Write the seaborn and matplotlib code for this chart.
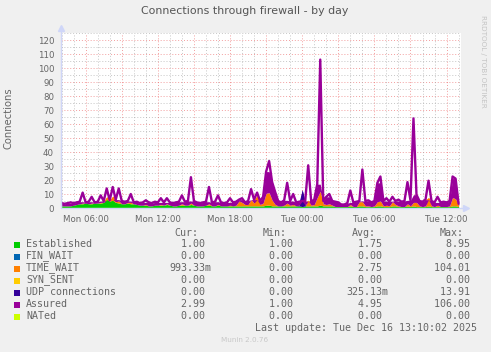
import numpy as np
import pandas as pd
import matplotlib
matplotlib.use("Agg")
import matplotlib.pyplot as plt
from matplotlib.patches import Rectangle
import seaborn as sns

# ---------------- data (15-minute samples, hours since Mon 00:00) ----------------
start_hour = 4.0
step_hours = 0.25

established = [
    1.5, 1.5, 1.5, 1.5, 2.0, 2.5, 3.0, 3.0, 3.5, 3.0,
    3.0, 3.5, 3.5, 3.5, 4.0, 6.0, 5.0, 5.5, 4.0, 3.5,
    3.0, 3.0, 3.5, 3.0, 3.0, 2.5, 2.0, 2.0, 2.0, 1.5,
    1.5, 2.0, 2.0, 2.0, 2.0, 2.5, 2.0, 1.5, 1.5, 2.0,
    2.0, 2.0, 2.0, 2.5, 2.0, 1.5, 1.5, 1.5, 2.0, 2.0,
    1.5, 1.5, 2.0, 1.5, 1.5, 1.5, 1.5, 1.5, 1.5, 1.5,
    1.5, 1.5, 1.5, 1.5, 1.5, 1.5, 1.5, 1.5, 2.0, 2.0,
    1.5, 1.5, 1.5, 1.5, 1.5, 1.5, 1.5, 1.5, 1.5, 1.5,
    1.0, 1.5, 1.5, 1.5, 1.5, 1.5, 2.0, 1.5, 1.5, 1.5,
    1.5, 1.0, 1.0, 1.0, 1.0, 1.0, 1.5, 1.0, 1.0, 1.5,
    1.5, 1.0, 1.0, 1.0, 1.0, 1.5, 1.5, 1.0, 1.0, 1.0,
    1.5, 1.5, 1.0, 1.0, 1.0, 1.5, 1.0, 1.5, 1.0, 1.0,
    1.0, 1.0, 1.5, 1.0, 1.0, 1.0, 1.0, 1.0, 1.0, 1.0,
    1.5, 1.5, 1.0,
]
fin_wait = [0.0] * len(established)
time_wait = [
    0.0, 0.0, 0.0, 0.0, 0.0, 0.0, 0.0, 0.5, 0.0, 0.0,
    0.5, 0.0, 0.0, 0.5, 0.0, 2.0, 0.5, 3.0, 0.5, 1.5,
    0.0, 0.0, 0.5, 1.0, 0.0, 0.0, 0.0, 0.0, 0.5, 0.0,
    0.0, 0.0, 0.0, 0.5, 0.0, 0.5, 0.0, 0.0, 0.0, 0.0,
    1.0, 0.0, 0.0, 1.0, 0.0, 0.0, 0.0, 0.0, 0.0, 1.0,
    0.0, 0.0, 0.5, 0.0, 0.0, 0.0, 0.5, 0.0, 0.5, 3.5,
    2.5, 1.0, 1.0, 4.5, 2.0, 7.5, 1.0, 2.0, 8.5, 9.0,
    4.0, 1.0, 0.0, 0.0, 0.5, 2.0, 0.5, 1.0, 0.0, 0.0,
    0.0, 0.0, 4.0, 0.5, 1.0, 6.0, 10.0, 1.5, 1.0, 1.5,
    0.5, 0.0, 0.0, 0.0, 0.0, 0.0, 1.0, 0.0, 0.0, 3.0,
    3.0, 0.5, 0.5, 0.0, 0.5, 3.0, 3.5, 0.5, 1.0, 0.5,
    3.0, 1.0, 0.5, 0.0, 0.0, 1.5, 0.5, 2.5, 3.0, 0.5,
    0.0, 0.5, 6.0, 0.5, 0.0, 1.0, 0.0, 0.0, 0.0, 0.5,
    6.0, 5.0, 1.0,
]
syn_sent = [0.0] * len(established)
udp_connections = [
    0.0, 0.0, 0.0, 0.0, 0.0, 0.0, 0.0, 0.0, 0.0, 0.0,
    0.0, 0.0, 0.0, 0.0, 0.0, 0.0, 0.0, 0.0, 0.0, 0.0,
    0.0, 0.0, 0.0, 0.0, 0.0, 0.0, 0.0, 0.0, 0.0, 0.0,
    0.0, 0.0, 0.0, 0.0, 0.0, 0.0, 0.0, 0.0, 0.0, 0.0,
    0.0, 0.0, 0.0, 0.0, 0.0, 0.0, 0.0, 0.0, 0.0, 0.0,
    0.0, 0.0, 0.0, 0.0, 0.0, 0.0, 0.0, 0.0, 0.0, 0.0,
    0.0, 0.0, 0.0, 0.0, 0.0, 0.0, 0.0, 0.0, 0.0, 0.0,
    0.0, 0.0, 0.0, 0.0, 0.0, 0.0, 0.0, 0.0, 0.0, 0.5,
    12.0, 0.5, 0.0, 0.0, 0.0, 0.0, 0.0, 0.0, 0.0, 0.0,
    0.0, 0.0, 0.0, 0.0, 0.0, 0.0, 0.0, 0.0, 0.0, 0.0,
    0.0, 0.0, 0.0, 0.0, 0.0, 0.0, 0.0, 0.0, 0.0, 0.0,
    0.0, 0.0, 0.0, 0.0, 0.0, 0.0, 0.0, 0.0, 0.0, 0.0,
    0.0, 0.0, 0.0, 0.0, 0.0, 0.0, 0.0, 0.0, 0.0, 0.0,
    0.0, 0.0, 0.0,
]
assured = [
    3.5, 3.0, 3.5, 4.0, 3.5, 4.0, 4.5, 11.0, 4.0, 4.5,
    8.0, 4.0, 4.5, 9.0, 5.0, 14.0, 5.5, 15.0, 6.0, 14.0,
    5.0, 4.5, 5.0, 10.0, 4.0, 4.5, 3.5, 4.0, 5.5, 4.0,
    3.5, 4.5, 4.0, 7.0, 4.0, 7.0, 4.0, 3.5, 4.0, 4.5,
    9.0, 4.5, 5.0, 22.0, 5.0, 4.0, 3.5, 4.0, 4.5, 15.0,
    4.0, 4.5, 9.0, 4.0, 3.5, 4.0, 7.0, 4.0, 4.5, 6.0,
    7.0, 4.0, 5.0, 13.5, 6.0, 11.0, 5.0, 8.0, 26.0, 33.5,
    18.5, 11.5, 5.0, 4.0, 5.5, 18.0, 5.0, 10.0, 4.0, 4.5,
    5.0, 5.0, 30.5, 4.5, 6.0, 17.0, 106.0, 5.0, 8.0, 10.0,
    5.0, 4.5, 4.0, 2.5, 2.5, 3.5, 12.5, 4.0, 4.5, 5.0,
    27.5, 5.0, 5.5, 4.0, 5.0, 18.0, 22.5, 5.0, 7.0, 4.5,
    8.0, 5.0, 6.0, 4.5, 5.0, 18.5, 5.5, 64.0, 9.5, 5.0,
    4.5, 6.0, 19.5, 5.0, 4.0, 8.0, 4.0, 4.5, 4.0, 5.0,
    22.5, 21.0, 3.0,
]
nated = [0.0] * len(established)

series_names = ["Established", "FIN_WAIT", "TIME_WAIT", "SYN_SENT",
                "UDP connections", "Assured", "NATed"]
series_colors = ["#00CC00", "#0066B3", "#FF8000", "#FFCC00",
                 "#330099", "#990099", "#CCFF00"]
cur_vals = ["1.00 ", "0.00 ", "993.33m", "0.00 ", "0.00 ", "2.99 ", "0.00 "]
min_vals = ["1.00 ", "0.00 ", "0.00 ", "0.00 ", "0.00 ", "1.00 ", "0.00 "]
avg_vals = ["1.75 ", "0.00 ", "2.75 ", "0.00 ", "325.13m", "4.95 ", "0.00 "]
max_vals = ["8.95 ", "0.00 ", "104.01 ", "0.00 ", "13.91 ", "106.00 ", "0.00 "]

tick_hours = [6, 12, 18, 24, 30, 36]
tick_labels = ["Mon 06:00", "Mon 12:00", "Mon 18:00",
               "Tue 00:00", "Tue 06:00", "Tue 12:00"]
y_ticks = list(range(0, 121, 10))

title = "Connections through firewall - by day"
ylabel = "Connections"
last_update = "Last update: Tue Dec 16 13:10:02 2025"
footer = "Munin 2.0.76"
side_text = "RRDTOOL / TOBI OETIKER"

# ---------------- figure ----------------
sns.set_theme(style="white")
plt.rcParams["font.family"] = ["DejaVu Sans"]

W, H = 491, 352
FONT = "#666666"
AXISC = "#CFD6F8"

hours = start_hour + step_hours * np.arange(len(assured))
df = pd.DataFrame({
    "hour": hours,
    "Established": established, "FIN_WAIT": fin_wait, "TIME_WAIT": time_wait,
    "SYN_SENT": syn_sent, "UDP connections": udp_connections,
    "Assured": assured, "NATed": nated,
})

fig = plt.figure(figsize=(W / 100, H / 100), dpi=100, facecolor="#F0F0F0")
ax_l, ax_r, ax_t, ax_b = 61, 461, 33, 208
ax = fig.add_axes([ax_l / W, 1 - ax_b / H, (ax_r - ax_l) / W, (ax_b - ax_t) / H])
ax.set_facecolor("white")
xmin, xmax = 3.95, 37.2
ax.set_xlim(xmin, xmax)
ax.set_ylim(0, 125)

# grid
for yv in np.arange(5, 126, 5):
    major = (yv % 10 == 0)
    ax.axhline(yv, color="#E85050" if major else "#A0A0A0", alpha=0.55 if major else 0.6,
               lw=0.7, ls=(0, (1, 2)), zorder=0.5)
for xv in np.arange(4, 38, 1):
    major = (xv % 3 == 0)
    ax.axvline(xv, color="#E85050" if major else "#A0A0A0", alpha=0.55 if major else 0.6,
               lw=0.7, ls=(0, (1, 2)), zorder=0.5)

# stacked areas
base = np.zeros(len(df))
for name, color in zip(series_names[:5], series_colors[:5]):
    top = base + df[name].to_numpy()
    ax.fill_between(df["hour"], base, top, color=color, lw=0, zorder=2)
    base = top

# the dense 5-minute zig-zag of the Assured line visually fills the band above the stack;
# isolated spikes stay as a plain line
asr = df["Assured"].to_numpy()
nb = np.maximum(np.r_[asr[0], asr[:-1]], np.r_[asr[1:], asr[-1]])
band = np.minimum(asr, nb)
ax.fill_between(df["hour"], np.minimum(base, band), band, color="#990099", lw=0, zorder=2.5)
base2 = np.zeros(len(df))
for name, color in zip(series_names[:5], series_colors[:5]):
    top = base2 + df[name].to_numpy()
    ax.fill_between(df["hour"], np.maximum(base2, band), np.maximum(top, band), color=color,
                    lw=0, zorder=2.6)
    base2 = top

# lines
sns.lineplot(data=df, x="hour", y="Assured", ax=ax, color="#990099",
             linewidth=1.7, legend=False, zorder=3)
sns.lineplot(data=df, x="hour", y="NATed", ax=ax, color="#CCFF00",
             linewidth=0.8, legend=False, zorder=3)

for s in ax.spines.values():
    s.set_visible(False)
ax.set_xlabel("")
ax.set_ylabel("")
ax.set_xticks(tick_hours)
ax.set_xticklabels(tick_labels)
ax.set_yticks(y_ticks)
ax.tick_params(axis="both", labelsize=6.2, colors=FONT, length=2, width=0.6, pad=3)
ax.tick_params(axis="x", colors="#999999", labelcolor=FONT)
ax.tick_params(axis="y", colors="#999999", labelcolor=FONT)

# axes with arrows
ax.plot([0, 1.012], [0, 0], transform=ax.transAxes, color=AXISC, lw=1, clip_on=False, zorder=4)
ax.plot([0, 0], [0, 1.03], transform=ax.transAxes, color=AXISC, lw=1, clip_on=False, zorder=4)
ax.plot([1.012], [0], transform=ax.transAxes, marker=">", color=AXISC, ms=4, clip_on=False, zorder=4)
ax.plot([0], [1.03], transform=ax.transAxes, marker="^", color=AXISC, ms=4, clip_on=False, zorder=4)

def fx(px):
    return px / W

def fy(py):
    return 1 - py / H

fig.text(fx(245), fy(11.5), title, ha="center", va="center", fontsize=7.9, color="#555555")
fig.text(fx(9), fy(118), ylabel, ha="center", va="center", rotation=90, fontsize=7.2, color=FONT)
fig.text(fx(483.5), fy(15), side_text, ha="center", va="top", rotation=270,
         fontsize=5.2, color="#C4C4C4")

mono = "DejaVu Sans Mono"
LFS = 7.2
for txt, xr in zip(["Cur:", "Min:", "Avg:", "Max:"], [198, 287, 376, 464]):
    fig.text(fx(xr), fy(232.5), txt, ha="right", va="center", family=mono, fontsize=LFS, color=FONT)

for k, name in enumerate(series_names):
    yc = 244 + 12 * k
    fig.patches.append(Rectangle((fx(14), fy(yc + 4)), 6 / W, 6 / H, transform=fig.transFigure,
                                 facecolor=series_colors[k], edgecolor="none", figure=fig))
    fig.text(fx(26), fy(yc), name, ha="left", va="center", family=mono, fontsize=LFS, color=FONT)
    for vals, xr in zip([cur_vals, min_vals, avg_vals, max_vals], [211, 299, 388, 476]):
        fig.text(fx(xr), fy(yc), vals[k], ha="right", va="center", family=mono,
                 fontsize=LFS, color=FONT)

fig.text(fx(477), fy(328), last_update, ha="right", va="center", family=mono, fontsize=LFS, color=FONT)
fig.text(fx(245), fy(340), footer, ha="center", va="center", fontsize=5.2, color="#C8C8C8")

fig.savefig("out.png", dpi=100, facecolor=fig.get_facecolor())
